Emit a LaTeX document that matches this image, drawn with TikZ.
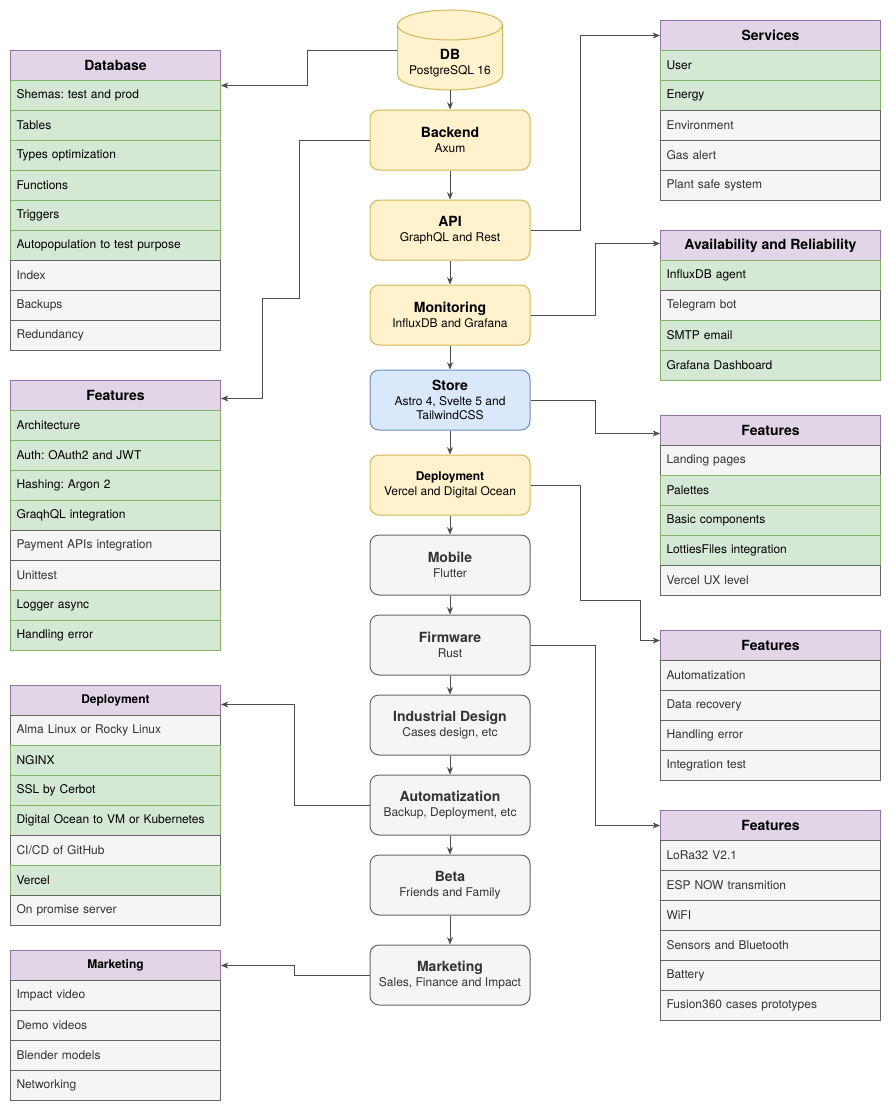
\documentclass[tikz,border=0pt]{standalone}
\usepackage{fontspec}
\setmainfont{TeX Gyre Heros}
\usetikzlibrary{arrows.meta}
\frenchspacing

\definecolor{hdfill}{HTML}{E1D5E7}
\definecolor{hdline}{HTML}{9673A6}
\definecolor{okfill}{HTML}{D5E8D4}
\definecolor{okline}{HTML}{82B366}
\definecolor{tdfill}{HTML}{F5F5F5}
\definecolor{tdline}{HTML}{666666}
\definecolor{tdtext}{HTML}{333333}
\definecolor{ylfill}{HTML}{FFF2CC}
\definecolor{ylline}{HTML}{D6B656}
\definecolor{blfill}{HTML}{DAE8FC}
\definecolor{blline}{HTML}{6C8EBF}
\definecolor{wire}{HTML}{4D4D4D}

\newcommand{\sttl}[1]{{\bfseries\fontsize{10.5}{13}\selectfont #1}}
\newcommand{\smttl}[1]{{\bfseries #1}}

\tikzset{
    listrow/.style={draw, line width=0.75pt, anchor=north west, minimum width=157.5pt,
        minimum height=22.5pt, text width=148.5pt, inner xsep=4.5pt, inner ysep=0pt,
        align=left, font=\fontsize{9}{11}\selectfont},
    ok/.style={listrow, fill=okfill, draw=okline, text=black},
    todo/.style={listrow, fill=tdfill, draw=tdline, text=tdtext},
    listhead/.style={draw=hdline, fill=hdfill, line width=0.75pt, anchor=north west,
        minimum width=157.5pt, minimum height=22.5pt, inner sep=0pt,
        font=\bfseries\fontsize{10.5}{12}\selectfont},
    smallhead/.style={listhead, font=\bfseries\fontsize{9}{11}\selectfont},
    widehead/.style={minimum width=165pt},
    wide/.style={minimum width=165pt, text width=156pt},
    stage/.style={draw, rounded corners=6.75pt, line width=0.75pt, minimum width=120pt,
        minimum height=45pt, align=center, inner sep=0pt, font=\fontsize{9}{11}\selectfont},
    core/.style={stage, fill=ylfill, draw=ylline},
    front/.style={stage, fill=blfill, draw=blline},
    later/.style={stage, fill=tdfill, draw=tdline, text=tdtext},
    link/.style={draw=wire, line width=0.75pt, ->},
}

\begin{document}
\begin{tikzpicture}[x=0.75pt, y=-0.75pt, >={Stealth[length=5.5pt, width=4.5pt]}]
    \fill[white] (0,0) rectangle (891,1111);

    % database cylinder
    \filldraw[fill=ylfill, draw=ylline, line width=0.75pt]
        (397.5,25) -- (397.5,75) arc[start angle=180, end angle=360, x radius=39.375pt, y radius=11.25pt]
        -- (502.5,25) arc[start angle=0, end angle=180, x radius=39.375pt, y radius=11.25pt] -- cycle;
    \draw[ylline, line width=0.75pt] (397.5,25) arc[start angle=180, end angle=360, x radius=39.375pt, y radius=11.25pt];
    \node[minimum width=78.75pt, minimum height=40.5pt, inner sep=0pt, align=center,
        font=\fontsize{9}{11}\selectfont] (db) at (450,63) {\sttl{DB}\\PostgreSQL 16};

    % center column
    \node[core] (backend) at (450,140) {\sttl{Backend}\\Axum};
    \node[core] (api) at (450,230) {\sttl{API}\\GraphQL and Rest};
    \node[core] (monitoring) at (450,315) {\sttl{Monitoring}\\InfluxDB and Grafana};
    \node[front] (store) at (450,400) {\sttl{Store}\\Astro 4, Svelte 5 and\\TailwindCSS};
    \node[core] (deploy) at (450,485) {\smttl{Deployment}\\Vercel and Digital Ocean};
    \node[later] (mobile) at (450,565) {\sttl{Mobile}\\Flutter};
    \node[later] (firmware) at (450,645) {\sttl{Firmware}\\Rust};
    \node[later] (design) at (450,725) {\sttl{Industrial Design}\\Cases design, etc};
    \node[later] (automat) at (450,805) {\sttl{Automatization}\\Backup, Deployment, etc};
    \node[later] (beta) at (450,885) {\sttl{Beta}\\Friends and Family};
    \node[later] (marketing) at (450,975) {\sttl{Marketing}\\Sales, Finance and Impact};

    \foreach \a/\b in {db/backend, backend/api, api/monitoring, monitoring/store, store/deploy,
        deploy/mobile, mobile/firmware, firmware/design, design/automat, automat/beta, beta/marketing}
    {
        \draw[link] (\a) -- (\b);
    }

    % left lists
    \node[listhead] (dbh) at (10,50) {Database};
    \foreach \txt/\kind [count=\i] in {Shemas: test and prod/ok, Tables/ok, Types optimization/ok,
        Functions/ok, Triggers/ok, Autopopulation to test purpose/ok, Index/todo, Backups/todo, Redundancy/todo}
    {
        \node[\kind] (dbr\i) at (10,50+30*\i) {\txt};
    }

    \node[listhead] (fth) at (10,380) {Features};
    \foreach \txt/\kind [count=\i] in {Architecture/ok, Auth: OAuth2 and JWT/ok, Hashing: Argon 2/ok,
        GraqhQL integration/ok, Payment APIs integration/todo, Unittest/todo, Logger async/ok, Handling error/ok}
    {
        \node[\kind] (ftr\i) at (10,380+30*\i) {\txt};
    }

    \node[smallhead] (dph) at (10,685) {Deployment};
    \foreach \txt/\kind [count=\i] in {Alma Linux or Rocky Linux/todo, NGINX/ok, SSL by Cerbot/ok,
        Digital Ocean to VM or Kubernetes/ok, {CI/CD of GitHub}/todo, Vercel/ok, On promise server/todo}
    {
        \node[\kind] (dpr\i) at (10,685+30*\i) {\txt};
    }

    \node[smallhead] (mkh) at (10,950) {Marketing};
    \foreach \txt/\kind [count=\i] in {Impact video/todo, Demo videos/todo, Blender models/todo, Networking/todo}
    {
        \node[\kind] (mkr\i) at (10,950+30*\i) {\txt};
    }

    % right lists
    \node[listhead, widehead] (svh) at (660,20) {Services};
    \foreach \txt/\kind [count=\i] in {User/ok, Energy/ok, Environment/todo, Gas alert/todo, Plant safe system/todo}
    {
        \node[\kind, wide] (svr\i) at (660,20+30*\i) {\txt};
    }

    \node[listhead, widehead] (avh) at (660,230) {Availability and Reliability};
    \foreach \txt/\kind [count=\i] in {InfluxDB agent/ok, Telegram bot/todo, SMTP email/ok, Grafana Dashboard/ok}
    {
        \node[\kind, wide] (avr\i) at (660,230+30*\i) {\txt};
    }

    \node[listhead, widehead] (sfh) at (660,415) {Features};
    \foreach \txt/\kind [count=\i] in {Landing pages/todo, Palettes/ok, Basic components/ok,
        LottiesFiles integration/ok, Vercel UX level/todo}
    {
        \node[\kind, wide] (sfr\i) at (660,415+30*\i) {\txt};
    }

    \node[listhead, widehead] (dfh) at (660,630) {Features};
    \foreach \txt/\kind [count=\i] in {Automatization/todo, Data recovery/todo, Handling error/todo, Integration test/todo}
    {
        \node[\kind, wide] (dfr\i) at (660,630+30*\i) {\txt};
    }

    \node[listhead, widehead] (ffh) at (660,810) {Features};
    \foreach \txt/\kind [count=\i] in {LoRa32 V2.1/todo, ESP NOW transmition/todo, WiFI/todo,
        Sensors and Bluetooth/todo, Battery/todo, Fusion360 cases prototypes/todo}
    {
        \node[\kind, wide] (ffr\i) at (660,810+30*\i) {\txt};
    }

    % connectors to the lists
    \draw[link] ([yshift=9.75pt]db.west) -- ++(-89.5,0) |- ([yshift=-15pt]dbh.east);
    \draw[link] (backend.west) -- ++(-70,0) |- (262,298) |- ([yshift=-2.25pt]fth.east);
    \draw[link] (api.east) -- ++(50,0) |- (svh.west);
    \draw[link] (monitoring.east) -- ++(65,0) |- ([yshift=1.5pt]avh.west);
    \draw[link] (store.east) -- ++(65,0) |- ([yshift=-2.25pt]sfh.west);
    \draw[link] (deploy.east) -- ++(50,0) |- (640,600) |- ([yshift=3.75pt]dfh.west);
    \draw[link] (firmware.east) -- ++(65,0) |- (ffh.west);
    \draw[link] (automat.west) -- ++(-75,0) |- ([yshift=-3pt]dph.east);
    \draw[link] (marketing.west) -- ++(-75,0) |- (mkh.east);

\end{tikzpicture}
\end{document}
